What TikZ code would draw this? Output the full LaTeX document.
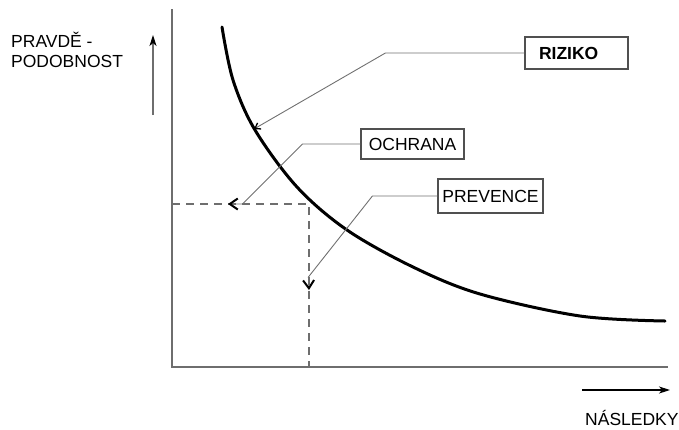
\documentclass[tikz,border=0pt]{standalone}
\usepackage{fontspec}
\setmainfont{Liberation Sans}
\usetikzlibrary{arrows.meta,positioning}
\definecolor{AxisGray}{HTML}{6E6E6E}
\definecolor{LeadGray}{HTML}{707070}
\definecolor{BoxGray}{HTML}{505050}
\tikzset{
  % Label box: width given, text centred
  lbox/.style={
    rectangle, draw=BoxGray, fill=white,
    line width=1.2pt, inner sep=0pt,
    minimum width=#1, minimum height=31pt,
    font=\fontsize{17.5}{20}\selectfont
  },
  % Axis line
  axis/.style={draw=AxisGray, line width=1.3pt},
  % Direction arrow beside an axis
  dir/.style={
    -{Stealth[length=11pt,width=7pt,inset=3pt,color=black]},
    line width=1.2pt
  },
  % Leader line from a box
  lead/.style={draw=LeadGray, line width=0.9pt},
  % Open tip of a leader
  tip/.style={-{Straight Barb[#1,color=black]}},
  % Dashed guide
  guide/.style={draw=AxisGray, line width=1.3pt, dash pattern=on 8pt off 6pt},
  % Risk curve
  curve/.style={line width=3pt, line cap=round},
  % Axis name
  lbl/.style={font=\fontsize{17.5}{20}\selectfont, inner sep=0pt}
}
\begin{document}
\begin{tikzpicture}[x=1pt, y=-1pt]
  \useasboundingbox (0,0) rectangle (679,429);

  % axes and guides
  \coordinate (o)      at (172,367);
  \coordinate (ytop)   at (172,9);
  \coordinate (xend)   at (668,367);
  \coordinate (gleft)  at (172,204);
  \coordinate (gturn)  at (309,204);
  \coordinate (gbot)   at (309,367);
  \coordinate (yA)     at (153,115);
  \coordinate (yB)     at (153,35);
  \coordinate (xA)     at (582,390);
  \coordinate (xB)     at (670,390);
  \coordinate (rizTip) at (254,129);
  \coordinate (ochTip) at (228,204);
  \coordinate (preTip) at (309,290);

  \draw[axis]  (ytop) -- (o) -- (xend);
  \draw[guide] (gleft) -- (gturn) -- (gbot);
  \draw[dir, AxisGray] (yA) -- (yB);
  \draw[dir] (xA) -- (xB);

  \node[lbl, align=left, anchor=north west] (yname) at (11,32) {PRAVDĚ -\\PODOBNOST};
  \node[lbl, anchor=base west] (xname) at (585,425) {NÁSLEDKY};

  % curve
  \draw[curve] plot[smooth, tension=0.55] coordinates {
    (222,27) (233,80) (255,130) (297,187) (347,230)
    (413,267) (480,294) (580,316) (665,321)};

  % boxes
  \node[lbox=103pt, minimum height=32pt, text width=75pt, align=left, inner xsep=14pt]
    (riziko) at (576.5,53) {\textbf{RIZIKO}};
  \node[lbox=103pt, minimum height=30pt] (ochrana)  at (412.5,144) {OCHRANA};
  \node[lbox=105pt, minimum height=34pt] (prevence) at (490.5,196) {PREVENCE};

  \draw[lead, tip={length=5pt,width=7pt,line width=1.3pt}]
    (riziko.west) -- ++(-139,0) -- (rizTip);
  \draw[lead, tip={length=8pt,width=11pt,line width=2pt}]
    (ochrana.west) -- ++(-58,0) -- ++(-60,60) -- (ochTip);
  \draw[lead, tip={length=8pt,width=11pt,line width=2pt}]
    (prevence.west) -- ++(-65,0) -- ++(-64,81) -- (preTip);
\end{tikzpicture}
\end{document}
